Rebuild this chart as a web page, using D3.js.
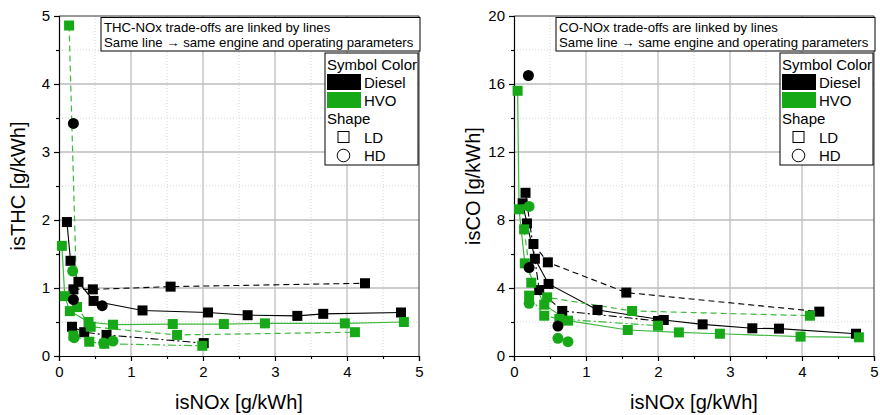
<!DOCTYPE html>
<html><head><meta charset="utf-8">
<script src="https://cdn.jsdelivr.net/npm/d3@7"></script>
<style>
body{margin:0;background:#fff}
svg{display:block}
text{font-family:"Liberation Sans",Arial,sans-serif;fill:#000}
</style>
</head><body>
<svg id="chart" width="880" height="415"></svg>
<script>
// ---------- data ----------
const xTicks = [0, 1, 2, 3, 4, 5];
const thcTicks = [0, 1, 2, 3, 4, 5];
const coTicks = [0, 4, 8, 12, 16, 20];

// THC panel (x = isNOx, y = isTHC)
const thcDieselSolid  = [[0.11,1.97],[0.16,1.40],[0.27,1.09],[0.48,0.81],[1.16,0.67],[2.07,0.64],[2.62,0.60],[3.31,0.59],[3.67,0.62],[4.75,0.64]];
const thcDieselDashed = [[0.20,0.98],[0.47,0.98],[1.55,1.02],[4.25,1.07]];
const thcDieselDashDot= [[0.18,0.43],[0.35,0.35],[0.66,0.31],[2.01,0.19]];
const thcDieselHD     = [[0.20,3.42],[0.20,0.83],[0.60,0.74]];
const thcHvoSolid     = [[0.04,1.62],[0.08,0.88],[0.15,0.66],[0.41,0.50],[0.75,0.46],[1.58,0.47],[2.29,0.47],[2.86,0.48],[3.97,0.48],[4.79,0.50]];
const thcHvoDashed    = [[0.14,4.86],[0.25,0.72],[0.44,0.43],[1.64,0.31],[4.11,0.35]];
const thcHvoDashDot   = [[0.20,0.30],[0.42,0.21],[0.63,0.18],[1.99,0.15]];
const thcHvoHD        = [[0.19,1.25],[0.21,0.27],[0.62,0.19],[0.75,0.22]];

// CO panel (x = isNOx, y = isCO)
const coDieselSolid   = [[0.12,8.98],[0.18,7.80],[0.29,5.72],[0.48,4.24],[1.16,2.71],[2.08,2.12],[2.62,1.86],[3.31,1.63],[3.68,1.61],[4.75,1.31]];
const coDieselDashed  = [[0.27,6.59],[0.47,5.51],[1.56,3.73],[4.24,2.61]];
const coDieselDashDot = [[0.16,9.60],[0.35,3.88],[0.67,2.65],[2.00,2.06]];
const coDieselHD      = [[0.20,16.5],[0.21,5.20],[0.61,1.76]];
const coHvoSolid      = [[0.05,15.6],[0.07,8.63],[0.15,5.45],[0.42,3.02],[0.75,2.08],[1.58,1.53],[2.29,1.39],[2.86,1.31],[3.98,1.14],[4.79,1.10]];
const coHvoDashed     = [[0.14,7.45],[0.24,4.31],[0.46,3.45],[1.64,2.65],[4.11,2.37]];
const coHvoDashDot    = [[0.21,3.55],[0.42,2.37],[0.63,2.18],[2.00,1.78]];
const coHvoHD         = [[0.21,8.8],[0.21,3.10],[0.61,1.04],[0.75,0.84]];

const noteLines = ["trade-offs are linked by lines", "Same line \u2192 same engine and operating parameters"];
const legendTitle1 = "Symbol Color", legendTitle2 = "Shape";
const fuelNames = ["Diesel", "HVO"], shapeNames = ["LD", "HD"];

// ---------- style ----------
const BLACK = "#000", GREEN = "#17a817", GREEN_LINE = "#3cb83c";
const DASH = "6,4", DASHDOT = "8,3,2,3";

const svg = d3.select("#chart");

function panel(cfg) {
  const g = svg.append("g");
  const x = d3.scaleLinear().domain([0, 5]).range([cfg.left, cfg.left + 360]);
  const y = d3.scaleLinear().domain([0, cfg.yMax]).range([356, 16]);
  const yStep = cfg.yTicks[1] - cfg.yTicks[0];
  const xMinor = d3.range(0.5, 5, 1);
  const yMinor = d3.range(yStep / 2, cfg.yMax, yStep);

  // minor grid
  g.selectAll(null).data(xMinor).join("line")
    .attr("x1", d => x(d)).attr("x2", d => x(d)).attr("y1", y(0)).attr("y2", y(cfg.yMax))
    .attr("stroke", "#d4d4d4").attr("stroke-width", 1).attr("stroke-dasharray", "1,2");
  g.selectAll(null).data(yMinor).join("line")
    .attr("x1", x(0)).attr("x2", x(5)).attr("y1", d => y(d)).attr("y2", d => y(d))
    .attr("stroke", "#d4d4d4").attr("stroke-width", 1).attr("stroke-dasharray", "1,2");
  // major grid
  g.selectAll(null).data(xTicks.slice(1, -1)).join("line")
    .attr("x1", d => x(d)).attr("x2", d => x(d)).attr("y1", y(0)).attr("y2", y(cfg.yMax))
    .attr("stroke", "#bdbdbd").attr("stroke-width", 1.3);
  g.selectAll(null).data(cfg.yTicks.slice(1, -1)).join("line")
    .attr("x1", x(0)).attr("x2", x(5)).attr("y1", d => y(d)).attr("y2", d => y(d))
    .attr("stroke", "#bdbdbd").attr("stroke-width", 1.3);

  // frame top/right
  g.append("line").attr("x1", x(0)).attr("x2", x(5)).attr("y1", y(cfg.yMax)).attr("y2", y(cfg.yMax))
    .attr("stroke", "#333").attr("stroke-width", 1);
  g.append("line").attr("x1", x(5)).attr("x2", x(5)).attr("y1", y(0)).attr("y2", y(cfg.yMax))
    .attr("stroke", "#333").attr("stroke-width", 1);

  // axes
  const ax = g.append("g").attr("transform", `translate(0,${y(0)})`)
    .call(d3.axisBottom(x).tickValues(xTicks).tickFormat(d3.format("d")).tickSize(5).tickPadding(5));
  g.append("g").attr("transform", `translate(0,${y(0)})`)
    .call(d3.axisBottom(x).tickValues(xMinor).tickFormat("").tickSize(3)).select(".domain").remove();
  const ay = g.append("g").attr("transform", `translate(${x(0)},0)`)
    .call(d3.axisLeft(y).tickValues(cfg.yTicks).tickFormat(d3.format("d")).tickSize(5).tickPadding(4));
  g.append("g").attr("transform", `translate(${x(0)},0)`)
    .call(d3.axisLeft(y).tickValues(yMinor).tickFormat("").tickSize(3)).select(".domain").remove();
  g.selectAll(".tick text").attr("font-size", 15).attr("font-family", "Liberation Sans, Arial, sans-serif").attr("fill", "#000");
  g.selectAll(".domain, .tick line").attr("stroke", "#000").attr("stroke-width", 1.2);

  // axis titles
  g.append("text").attr("x", x(2.5)).attr("y", 409).attr("text-anchor", "middle")
    .attr("font-size", 20).text("isNOx [g/kWh]");
  g.append("text").attr("transform", `translate(${cfg.left - 34},${y(cfg.yMax / 2)}) rotate(-90)`)
    .attr("text-anchor", "middle").attr("font-size", 20).text(cfg.yTitle);

  // lines
  const line = d3.line().x(d => x(d[0])).y(d => y(d[1]));
  const lineDefs = [
    [cfg.dSolid, BLACK, null, 1.1], [cfg.dDash, BLACK, DASH, 1.1], [cfg.dDashDot, BLACK, DASHDOT, 1.1],
    [cfg.hSolid, GREEN_LINE, null, 1.2], [cfg.hDash, GREEN_LINE, DASH, 1.2], [cfg.hDashDot, GREEN_LINE, DASHDOT, 1.2]
  ];
  lineDefs.forEach(([data, col, dash, w]) => {
    g.append("path").attr("d", line(data)).attr("fill", "none").attr("stroke", col)
      .attr("stroke-width", w).attr("stroke-dasharray", dash);
  });

  // markers
  const S = 10;
  function squares(data, col) {
    g.selectAll(null).data(data).join("rect")
      .attr("x", d => x(d[0]) - S / 2).attr("y", d => y(d[1]) - S / 2)
      .attr("width", S).attr("height", S).attr("fill", col);
  }
  function circles(data, col) {
    g.selectAll(null).data(data).join("circle")
      .attr("cx", d => x(d[0])).attr("cy", d => y(d[1])).attr("r", 5.5).attr("fill", col);
  }
  squares([...cfg.dSolid, ...cfg.dDash, ...cfg.dDashDot], BLACK);
  squares([...cfg.hSolid, ...cfg.hDash, ...cfg.hDashDot], GREEN);
  circles(cfg.dHD, BLACK);
  circles(cfg.hHD, GREEN);

  // note box
  const nb = g.append("g");
  nb.append("rect").attr("x", x(5) - 318).attr("y", 17.5).attr("width", 319).attr("height", 33.5)
    .attr("fill", "#fff").attr("stroke", "#000").attr("stroke-width", 1);
  nb.append("text").attr("x", x(5) - 315).attr("y", 31.5).attr("font-size", 13.2)
    .text(cfg.notePrefix + " " + noteLines[0]);
  nb.append("text").attr("x", x(5) - 315).attr("y", 47).attr("font-size", 13.2).text(noteLines[1]);

  // legend
  const lg = g.append("g");
  const lx = x(5) - 94;
  lg.append("rect").attr("x", lx).attr("y", 53).attr("width", 93).attr("height", 112)
    .attr("fill", "#fff").attr("stroke", "#000").attr("stroke-width", 1);
  lg.append("text").attr("x", lx + 2).attr("y", 69.5).attr("font-size", 15).text(legendTitle1);
  [BLACK, GREEN].forEach((c, i) => {
    lg.append("rect").attr("x", lx + 2).attr("y", 74 + i * 18).attr("width", 34).attr("height", 16).attr("fill", c);
    lg.append("text").attr("x", lx + 39).attr("y", 87.5 + i * 18).attr("font-size", 15).text(fuelNames[i]);
  });
  lg.append("text").attr("x", lx + 2).attr("y", 124).attr("font-size", 15).text(legendTitle2);
  lg.append("rect").attr("x", lx + 13).attr("y", 131.5).attr("width", 11).attr("height", 11)
    .attr("fill", "none").attr("stroke", "#000").attr("stroke-width", 1);
  lg.append("circle").attr("cx", lx + 18.5).attr("cy", 155.5).attr("r", 6.3)
    .attr("fill", "none").attr("stroke", "#000").attr("stroke-width", 1);
  lg.append("text").attr("x", lx + 39).attr("y", 142.5).attr("font-size", 15).text(shapeNames[0]);
  lg.append("text").attr("x", lx + 39).attr("y", 161).attr("font-size", 15).text(shapeNames[1]);
}

panel({
  left: 59, yMax: 5, yTicks: thcTicks, yTitle: "isTHC [g/kWh]", notePrefix: "THC-NOx",
  dSolid: thcDieselSolid, dDash: thcDieselDashed, dDashDot: thcDieselDashDot, dHD: thcDieselHD,
  hSolid: thcHvoSolid, hDash: thcHvoDashed, hDashDot: thcHvoDashDot, hHD: thcHvoHD
});
panel({
  left: 514, yMax: 20, yTicks: coTicks, yTitle: "isCO [g/kWh]", notePrefix: "CO-NOx",
  dSolid: coDieselSolid, dDash: coDieselDashed, dDashDot: coDieselDashDot, dHD: coDieselHD,
  hSolid: coHvoSolid, hDash: coHvoDashed, hDashDot: coHvoDashDot, hHD: coHvoHD
});
</script>
</body></html>
